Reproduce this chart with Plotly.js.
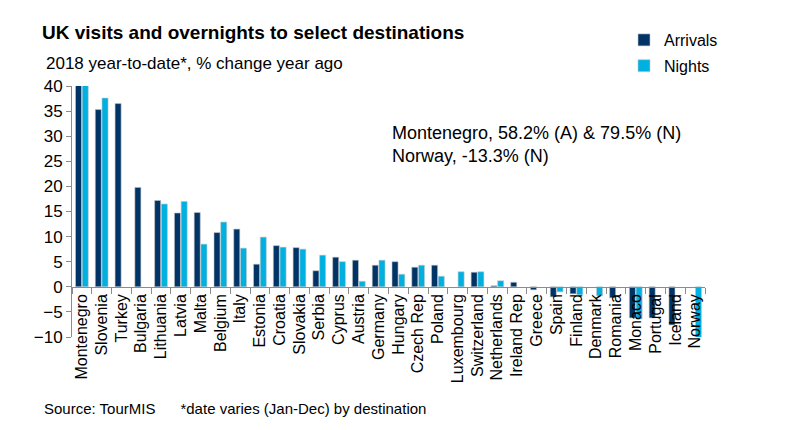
<!DOCTYPE html>
<html>
<head>
<meta charset="utf-8">
<script src="https://cdn.plot.ly/plotly-3.0.1.min.js"></script>
<style>html,body{margin:0;padding:0;background:#fff;}#chart{width:785px;height:430px;}</style>
</head>
<body>
<div id="chart"></div>
<script>
var categories = ["Montenegro","Slovenia","Turkey","Bulgaria","Lithuania","Latvia","Malta","Belgium","Italy","Estonia","Croatia","Slovakia","Serbia","Cyprus","Austria","Germany","Hungary","Czech Rep","Poland","Luxembourg","Switzerland","Netherlands","Ireland Rep","Greece","Spain","Finland","Denmark","Romania","Monaco","Portugal","Iceland","Norway"];
var arrivals = [58.2,35.3,36.5,19.8,17.2,14.7,14.8,10.8,11.5,4.5,8.2,7.8,3.2,5.9,5.3,4.3,5.0,3.9,4.3,null,2.9,0.2,0.9,-0.6,-2.0,-1.4,null,-2.2,-6.2,-6.2,-7.6,null];
var nights = [79.5,37.6,null,null,16.5,17.0,8.5,12.9,7.7,9.9,7.9,7.5,6.3,5.0,1.1,5.3,2.5,4.3,2.1,3.0,3.0,1.2,null,null,-1.0,-1.6,-1.8,null,-6.4,null,null,-13.3];
var yTicks = [-10,-5,0,5,10,15,20,25,30,35,40];
var noteLines = ["Montenegro, 58.2% (A) & 79.5% (N)", "Norway, -13.3% (N)"];

var W = 785, H = 430, L = 72, R = 80, T = 86, B = 93;
var pw = W - L - R, ph = H - T - B;
function px(x){ return (x - L) / pw; }
function py(y){ return (H - B - y) / ph; }

var font = "Liberation Sans, Arial, sans-serif";
var traces = [
  {type:"bar", name:"Arrivals", x:categories, y:arrivals, legendgroup:"a",
   marker:{color:"#003366", line:{color:"#c8c8c8", width:0.6}}},
  {type:"bar", name:"Nights", x:categories, y:nights, legendgroup:"b",
   marker:{color:"#00b0e0", line:{color:"#c8c8c8", width:0.6}}}
];
var annotations = [
  {text:"2018 year-to-date*, % change year ago", xref:"paper", yref:"paper", x:px(44), y:py(63),
   xanchor:"left", yanchor:"middle", showarrow:false, font:{size:17, color:"#000"}},
  {text:"Source: TourMIS&nbsp;&nbsp;&nbsp;&nbsp;&nbsp;&nbsp;*date varies (Jan-Dec) by destination", xref:"paper", yref:"paper",
   x:px(42), y:py(408), xanchor:"left", yanchor:"middle", showarrow:false, font:{size:15, color:"#000"}},
  {text:noteLines.join("<br>"), xref:"paper", yref:"paper", x:px(390), y:py(144),
   xanchor:"left", yanchor:"middle", align:"left", showarrow:false, font:{size:18, color:"#000"}}
];
var layout = {
  width:W, height:H,
  margin:{l:L, r:R, t:T, b:B, pad:0},
  paper_bgcolor:"#fff", plot_bgcolor:"#fff",
  font:{family:font, size:14, color:"#000"},
  barmode:"group", bargap:0.32, bargroupgap:0.1,
  showlegend:true,
  legend:{x:px(624), y:py(23), xanchor:"left", yanchor:"top", traceorder:"grouped", tracegroupgap:2,
          font:{size:16, color:"#000"}, itemwidth:30, bgcolor:"rgba(0,0,0,0)"},
  title:{text:"<b>UK visits and overnights to select destinations</b>", xref:"container", yref:"container",
         x:42/W, xanchor:"left", y:1-32/H, yanchor:"middle", font:{size:19, color:"#000"}},
  xaxis:{type:"category", anchor:"free", position:0.2, showline:true, linecolor:"#8c8c8c", linewidth:1,
         ticks:"outside", tickson:"boundaries", ticklen:6, tickcolor:"#8c8c8c", tickangle:-90,
         tickfont:{size:16, color:"#000"}, showgrid:false, zeroline:false, fixedrange:true},
  yaxis:{range:[-10,40], tickvals:yTicks, showline:true, linecolor:"#8c8c8c", linewidth:1,
         ticks:"outside", ticklen:5, tickcolor:"#8c8c8c", showgrid:false, zeroline:false,
         tickfont:{size:17, color:"#000"}, fixedrange:true},
  annotations:annotations
};
Plotly.newPlot("chart", traces, layout, {displayModeBar:false, staticPlot:true});
</script>
</body>
</html>
